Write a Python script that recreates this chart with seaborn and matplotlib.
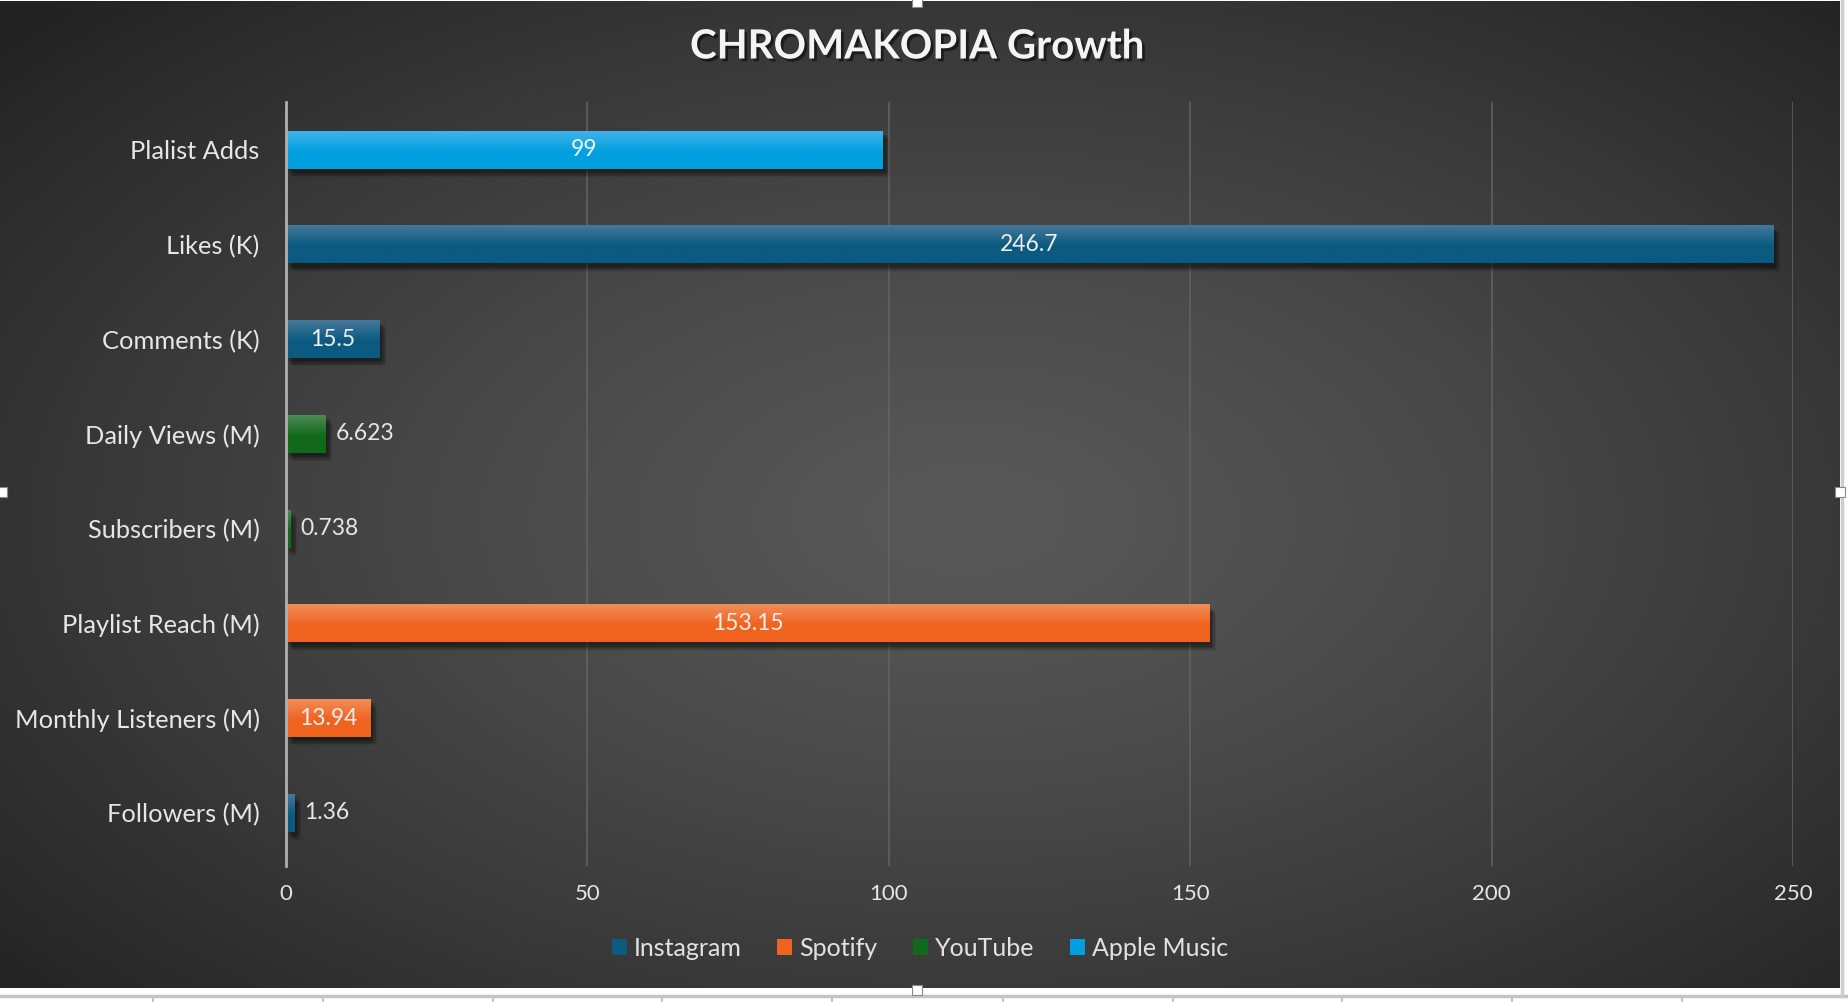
import numpy as np
import pandas as pd
import matplotlib
matplotlib.use("Agg")
import matplotlib.pyplot as plt
import matplotlib.patheffects as pe
from matplotlib.patches import Patch, Rectangle
from matplotlib.lines import Line2D
import seaborn as sns

# ---- data ----
metrics = ["Plalist Adds", "Likes (K)", "Comments (K)", "Daily Views (M)",
           "Subscribers (M)", "Playlist Reach (M)", "Monthly Listeners (M)", "Followers (M)"]
platforms_of_metric = ["Apple Music", "Instagram", "Instagram", "YouTube",
                       "YouTube", "Spotify", "Spotify", "Instagram"]
values = [99, 246.7, 15.5, 6.623, 0.738, 153.15, 13.94, 1.36]
value_labels = ["99", "246.7", "15.5", "6.623", "0.738", "153.15", "13.94", "1.36"]
platforms = ["Instagram", "Spotify", "YouTube", "Apple Music"]
x_ticks = [0, 50, 100, 150, 200, 250]
title = "CHROMAKOPIA Growth"

# colours (bottom, top of gradient)
base_colors = {"Instagram": "#0b5a80", "Spotify": "#f0631f", "YouTube": "#116a1b", "Apple Music": "#00a0df"}
top_colors = {"Instagram": "#44789a", "Spotify": "#f28d5a", "YouTube": "#4c8a56", "Apple Music": "#40b2e8"}

df = pd.DataFrame({"metric": metrics, "platform": platforms_of_metric, "value": values})

sns.set_theme(style="dark")
plt.rcParams["font.family"] = ["Lato", "DejaVu Sans"]

W, H = 1848, 1002
fig = plt.figure(figsize=(W / 100, H / 100), dpi=100, facecolor="white")

# background chart area with radial gradient
bx0, by0, bx1, by1 = 0, 1, 1840, 988  # pixel coords (top-left origin)
bg = fig.add_axes([bx0 / W, 1 - by1 / H, (bx1 - bx0) / W, (by1 - by0) / H], zorder=0)
gx = np.linspace(-1, 1, 600)
gy = np.linspace(-1, 1, 400)
GX, GY = np.meshgrid(gx, gy)
cx, cy = 0.05, 0.05
r = np.sqrt(((GX - cx) / 1.05) ** 2 + ((GY - cy) / 1.1) ** 2)
r = np.clip(r, 0, 1.35) / 1.35
light = np.array([0x58, 0x58, 0x58]) / 255
dark = np.array([0x22, 0x22, 0x22]) / 255
img = light[None, None, :] * (1 - r[..., None] ** 1.3) + dark[None, None, :] * (r[..., None] ** 1.3)
bg.imshow(img, aspect="auto", extent=[0, 1, 0, 1], interpolation="bilinear")
bg.set_axis_off()

# main axes
ax = fig.add_axes([286 / W, 1 - 866 / H, (1793 - 286) / W, (866 - 102) / H], zorder=2)
ax.set_facecolor("none")

palette = {p: base_colors[p] for p in platforms}
sns.barplot(data=df, y="metric", x="value", hue="platform", order=metrics,
            hue_order=platforms, dodge=False, width=0.4, palette=palette,
            orient="h", ax=ax, legend=False, saturation=1)

YLIM = (7.56, -0.503)
ax.set_xlim(0, 250)
ax.set_ylim(*YLIM)

# soft shadow made of several faint offset copies
shadow_fx = [pe.SimplePatchShadow(offset=(ox, oy), shadow_rgbFace="black", alpha=0.09)
             for ox, oy in [(1, -2), (2, -3), (3, -4), (4, -5), (5, -6), (2, -5), (4, -3)]]

# gradient + shadow on bars
for patch in list(ax.patches):
    w = patch.get_width()
    if not np.isfinite(w) or w <= 0:
        continue
    fc = patch.get_facecolor()
    plat = None
    for p, c in base_colors.items():
        if np.allclose(matplotlib.colors.to_rgba(c), fc, atol=0.01):
            plat = p
    patch.set_edgecolor("none")
    patch.set_path_effects(shadow_fx + [pe.Normal()])
    if plat is None:
        continue
    x0, y0 = patch.get_x(), patch.get_y()
    h = patch.get_height()
    t = np.linspace(0, 1, 64)[:, None]
    ct = np.array(matplotlib.colors.to_rgb(top_colors[plat]))
    cb = np.array(matplotlib.colors.to_rgb(base_colors[plat]))
    tt = np.clip(t / 0.55, 0, 1)
    grad = (ct[None, :] * (1 - tt) + cb[None, :] * tt)[:, None, :]
    im = ax.imshow(grad, extent=[x0, x0 + w, y0 + h, y0], aspect="auto",
                   origin="upper", zorder=patch.get_zorder() + 0.1, interpolation="bilinear")
    im.set_clip_path(patch)

ax.set_xlim(0, 250)
ax.set_ylim(*YLIM)
ax.set_aspect("auto")

# data labels
for i, (v, lab) in enumerate(zip(values, value_labels)):
    if v > 10:
        ax.text(v / 2, i, lab, ha="center", va="center", color="#eeeeee", fontsize=16.5, zorder=5)
    else:
        ax.annotate(lab, (v, i), xytext=(7, 0), textcoords="offset points",
                    ha="left", va="center", color="#e6e6e6", fontsize=16.5, zorder=5)

# axes styling
ax.set_xticks(x_ticks)
ax.set_xticklabels([str(t) for t in x_ticks])
ax.grid(axis="x", color="#636363", linewidth=1.1)
ax.grid(axis="y", visible=False)
ax.set_axisbelow(True)
for s in ["top", "right", "bottom"]:
    ax.spines[s].set_visible(False)
ax.spines["left"].set_color("#b0b0b0")
ax.spines["left"].set_linewidth(2)
ax.spines["left"].set_zorder(6)
ax.tick_params(axis="x", colors="#dcdcdc", labelsize=16, length=0, pad=13)
ax.tick_params(axis="y", colors="#dcdcdc", labelsize=18.3, length=0, pad=19)
for lbl in ax.get_xticklabels() + ax.get_yticklabels():
    lbl.set_color("#e6e6e6")
ax.set_xlabel("")
ax.set_ylabel("")

# title
fig.text(917 / W, 1 - 47 / H, title, ha="center", va="center", fontsize=29, fontweight="bold",
         color="#f4f4f4", zorder=10,
         path_effects=[pe.withSimplePatchShadow(offset=(2, -2), shadow_rgbFace="black", alpha=0.5)])

# legend
handles = [Patch(facecolor=base_colors[p], edgecolor="none", label=p) for p in platforms]
leg = fig.legend(handles=handles, loc="center", bbox_to_anchor=(920 / W, 1 - 948 / H), ncol=4,
                 frameon=False, fontsize=18, handlelength=0.6, handleheight=0.6,
                 handletextpad=0.3, columnspacing=1.4, labelcolor="#e2e2e2")
leg.set_zorder(10)

# spreadsheet remnants outside the chart
fig.add_artist(Line2D([0, 1], [1 - 996 / H, 1 - 996 / H], transform=fig.transFigure,
                      color="#c4c4c4", linewidth=2.5, zorder=1))
for xv in [153, 323, 493, 662, 832, 1003, 1173, 1342, 1512, 1682]:
    fig.add_artist(Line2D([xv / W, xv / W], [0, 1 - 996 / H], transform=fig.transFigure,
                          color="#c4c4c4", linewidth=1.5, zorder=1))
fig.add_artist(Line2D([1842 / W, 1842 / W], [1 - 996 / H, 1], transform=fig.transFigure,
                      color="#cccccc", linewidth=2.5, zorder=1))
# selection handles
for (px, py) in [(917, 2), (917, 990), (2, 492), (1840, 492)]:
    fig.add_artist(Rectangle(((px - 5) / W, 1 - (py + 5) / H), 10 / W, 10 / H,
                             transform=fig.transFigure, facecolor="white",
                             edgecolor="#888888", linewidth=0.8, zorder=12))

fig.savefig("out.png", dpi=100, facecolor="white")
